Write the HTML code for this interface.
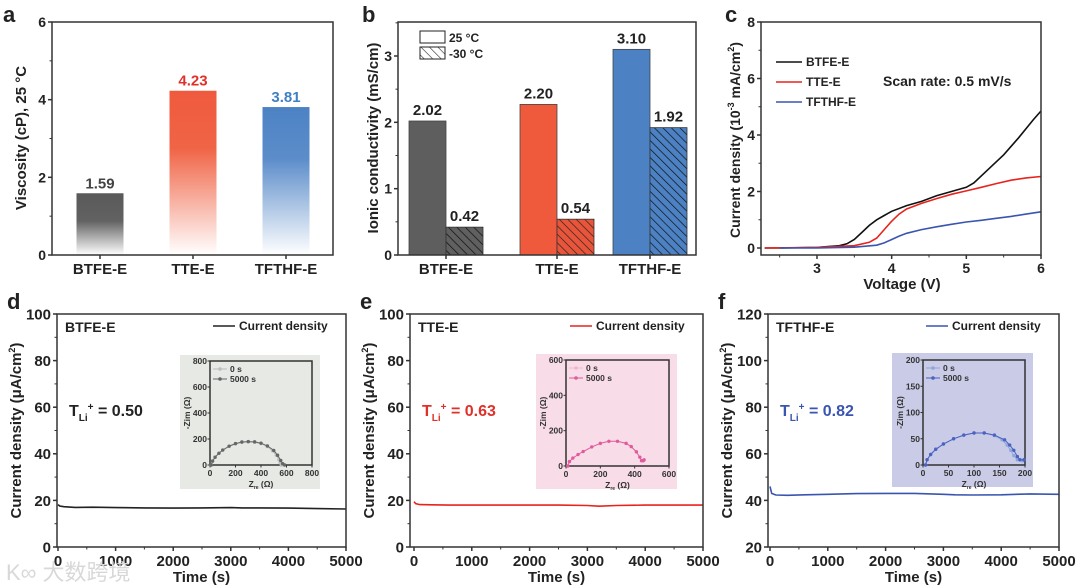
<!DOCTYPE html>
<html><head><meta charset="utf-8"><style>
html,body{margin:0;padding:0;background:#fff;}
svg{display:block;font-family:"Liberation Sans","Noto Sans CJK SC",sans-serif;font-weight:bold;}
</style></head><body>
<svg id="fig" width="1080" height="588" viewBox="0 0 1080 588" xmlns="http://www.w3.org/2000/svg">
<defs>
<linearGradient id="gGray" x1="0" y1="0" x2="0" y2="1"><stop offset="0" stop-color="#595959"/><stop offset="0.45" stop-color="#626262"/><stop offset="1" stop-color="#ffffff"/></linearGradient>
<linearGradient id="gRed" x1="0" y1="0" x2="0" y2="1"><stop offset="0" stop-color="#ef5a3d"/><stop offset="0.35" stop-color="#f06446"/><stop offset="1" stop-color="#ffffff"/></linearGradient>
<linearGradient id="gBlue" x1="0" y1="0" x2="0" y2="1"><stop offset="0" stop-color="#4c82c4"/><stop offset="0.35" stop-color="#5c8dca"/><stop offset="1" stop-color="#ffffff"/></linearGradient>
<pattern id="hGray" width="6" height="6" patternUnits="userSpaceOnUse" patternTransform="rotate(-45)"><rect width="6" height="6" fill="#606060"/><line x1="0" y1="0" x2="0" y2="6" stroke="#111" stroke-width="1.4"/></pattern>
<pattern id="hRed" width="6" height="6" patternUnits="userSpaceOnUse" patternTransform="rotate(-45)"><rect width="6" height="6" fill="#e8553a"/><line x1="0" y1="0" x2="0" y2="6" stroke="#222" stroke-width="1.4"/></pattern>
<pattern id="hBlue" width="6" height="6" patternUnits="userSpaceOnUse" patternTransform="rotate(-45)"><rect width="6" height="6" fill="#4c82c4"/><line x1="0" y1="0" x2="0" y2="6" stroke="#111" stroke-width="1.4"/></pattern>
<pattern id="hWhite" width="6" height="6" patternUnits="userSpaceOnUse" patternTransform="rotate(-45)"><rect width="6" height="6" fill="#fff"/><line x1="0" y1="0" x2="0" y2="6" stroke="#222" stroke-width="1.2"/></pattern>
</defs>
</svg>
<script>
// ---- panel a data ----
const aCategories = ["BTFE-E","TTE-E","TFTHF-E"];
const aViscosity = [1.59, 4.23, 3.81];
const aLabels = ["1.59","4.23","3.81"];
const aYTicks = [0,2,4,6];
// ---- panel b data ----
const bCategories = ["BTFE-E","TTE-E","TFTHF-E"];
const bCond25 = [2.02, 2.27, 3.10];
const bCondM30 = [0.42, 0.54, 1.92];
const bLabels25 = ["2.02","2.20","3.10"];
const bLabelsM30 = ["0.42","0.54","1.92"];
const bYTicks = [0,1,2,3];
// ---- panel c data ----
const cXTicks = [3,4,5,6];
const cYTicks = [0,2,4,6,8];
const cBtfeV = [2.3,2.5,3,3.3,3.4,3.5,3.6,3.7,3.8,3.9,4.0,4.2,4.4,4.6,4.8,5.0,5.1,5.3,5.5,5.7,5.9,6.0];
const cBtfeI = [0,0,0.02,0.08,0.15,0.3,0.55,0.8,1.0,1.15,1.3,1.5,1.65,1.85,2.0,2.15,2.3,2.8,3.3,3.9,4.55,4.85];
const cTteV = [2.3,3,3.5,3.7,3.8,3.9,4.0,4.1,4.2,4.4,4.6,4.8,5.0,5.2,5.4,5.6,5.8,6.0];
const cTteI = [0,0.02,0.08,0.2,0.35,0.65,0.95,1.2,1.38,1.58,1.75,1.9,2.02,2.15,2.28,2.4,2.48,2.53];
const cTfthfV = [2.5,3,3.5,3.8,3.9,4.0,4.1,4.2,4.4,4.6,4.8,5.0,5.2,5.4,5.6,5.8,6.0];
const cTfthfI = [0,0,0.03,0.1,0.18,0.3,0.42,0.52,0.65,0.75,0.84,0.92,0.98,1.05,1.12,1.2,1.28];
// ---- panels d,e,f data ----
const tTimes = [0,30,100,300,600,1000,1500,2000,2500,3000,3200,3500,4000,4500,5000];
const dCurrent = [18.2,17.6,17.3,17.0,17.1,16.9,16.8,16.7,16.8,16.9,16.8,16.8,16.7,16.5,16.3];
const eCurrent = [19.5,18.6,18.2,18.1,18.0,18.0,18.0,18.0,18.0,17.8,17.5,17.8,18.0,18.0,18.0];
const fCurrent = [46,43,42.3,42.2,42.4,42.6,42.9,43.0,43.0,42.6,42.4,42.3,42.4,42.8,42.6];
const tXTicks = [0,1000,2000,3000,4000,5000];
const dYTicks = [0,20,40,60,80,100];
const fYTicks = [20,40,60,80,100,120];
// Nyquist insets
const dNyqRe0 = [10,20,40,70,100,150,200,250,300,350,400,450,490,520,540,550,560];
const dNyqIm0 = [0,30,60,90,115,143,162,174,178,175,165,142,110,75,40,15,0];
const dNyqRe1 = [10,20,40,70,100,150,200,250,300,350,400,450,500,530,555,570,585];
const dNyqIm1 = [0,30,60,90,115,145,165,177,180,178,168,147,112,75,35,10,0];
const eNyqRe = [10,20,40,70,100,150,200,250,300,350,380,410,430,440,450,455];
const eNyqIm = [0,25,45,65,82,108,128,140,140,128,110,80,50,30,30,35];
const fNyqRe0 = [5,8,15,25,40,60,80,100,120,140,155,165,172,178,185,195];
const fNyqIm0 = [0,10,20,30,40,50,57,61,61,56,48,38,28,18,10,8];
const fNyqRe1 = [5,8,15,25,40,60,80,100,120,140,160,170,178,185,190,198];
const fNyqIm1 = [0,10,20,30,40,50,57,61,61,57,48,38,28,16,10,10];

const NS="http://www.w3.org/2000/svg";
const svg=document.getElementById('fig');
function el(tag,attrs,parent,text){const e=document.createElementNS(NS,tag);for(const k in attrs)e.setAttribute(k,attrs[k]);if(text!==undefined)e.textContent=text;(parent||svg).appendChild(e);return e;}
function lin(d0,d1,r0,r1){return v=>r0+(v-d0)*(r1-r0)/(d1-d0);}
function pathD(xs,ys,fx,fy){return xs.map((x,i)=>(i?'L':'M')+fx(x).toFixed(1)+','+fy(ys[i]).toFixed(1)).join('');}

function frame(x0,y0,x1,y1,name,fill){
  const r=el('rect',{x:x0,y:y0,width:x1-x0,height:y1-y0,fill:fill||'none',stroke:'#333','stroke-width':1.5});
  
  
}
function yTicks(ticks,fy,x0,size,minorStep,yMin,yMax,name,lab){
  const g=el('g',{});
  
  
  ticks.forEach(t=>{el('line',{x1:x0-4,x2:x0,y1:fy(t),y2:fy(t),stroke:'#333','stroke-width':1.5},g);
    if(lab!==false){el('text',{x:x0-6,y:fy(t)+size*0.36,'font-size':size,'text-anchor':'end',fill:'#222'},g,String(t));}});
  if(minorStep){for(let v=yMin;v<=yMax+1e-9;v+=minorStep){el('line',{x1:x0-2.5,x2:x0,y1:fy(v),y2:fy(v),stroke:'#333','stroke-width':1},g);}}
}
function xTicks(ticks,fx,y0,size,minorStep,xMin,xMax,name,labels){
  const g=el('g',{});
  
  
  ticks.forEach((t,i)=>{el('line',{x1:fx(t),x2:fx(t),y1:y0,y2:y0+4,stroke:'#333','stroke-width':1.5},g);
    el('text',{x:fx(t),y:y0+4+size,'font-size':size,'text-anchor':'middle',fill:'#222'},g,labels?labels[i]:String(t));});
  if(minorStep){for(let v=xMin;v<=xMax+1e-9;v+=minorStep){el('line',{x1:fx(v),x2:fx(v),y1:y0,y2:y0+2.5,stroke:'#333','stroke-width':1},g);}}
}
function text(x,y,s,size,name,opts){
  const t=el('text',Object.assign({x:x,y:y,'font-size':size,fill:'#222'},opts||{}),svg,s);
  
  
  return t;
}
function vtext(cx,cy,s,size,name){
  const t=el('text',{x:0,y:0,'font-size':size,fill:'#222','text-anchor':'middle',transform:`translate(${cx},${cy}) rotate(-90)`},svg);
  t.innerHTML=s;
  
  
}

// ===== Panel a =====
{
  const fy=lin(0,6,255,22);
  const cx=[100,193,286], w=47, fills=['url(#gGray)','url(#gRed)','url(#gBlue)'], lc=['#444','#e0302a','#3f7fc4'];
  aViscosity.forEach((v,i)=>{
    const r=el('rect',{x:cx[i]-w/2,y:fy(v),width:w,height:fy(0)-fy(v),fill:fills[i]});
    
    
    text(cx[i],fy(v)-5,aLabels[i],15,'bar-label-a-'+i,{'text-anchor':'middle',fill:lc[i]});
  });
  frame(52,22,333,255,'panel-a-plot');
  yTicks(aYTicks,fy,52,14,1,0,6,'panel-a-y-ticks');
  xTicks([0,1,2],i=>cx[i],255,15,null,0,0,'panel-a-x-ticks',aCategories);
  vtext(26,138,'Viscosity (cP), 25 °C',15,'panel-a-y-title');
  text(3,22,'a',22,'panel-a-letter');
}
// ===== Panel b =====
{
  const fy=lin(0,3,255,56);
  const ticks=[446,557,650], w=37;
  const f25=['#5e5e5e','#ef5a3d','#4c82c4'], fm=['url(#hGray)','url(#hRed)','url(#hBlue)'];
  bCond25.forEach((v,i)=>{
    const r=el('rect',{x:ticks[i]-w,y:fy(v),width:w,height:fy(0)-fy(v),fill:f25[i],stroke:'#444','stroke-width':0.8});
    
    
    text(ticks[i]-w/2,fy(v)-6,bLabels25[i],15,'bar-label-25c-'+i,{'text-anchor':'middle'});
    const r2=el('rect',{x:ticks[i],y:fy(bCondM30[i]),width:w,height:fy(0)-fy(bCondM30[i]),fill:fm[i],stroke:'#333','stroke-width':0.8});
    
    
    text(ticks[i]+w/2,fy(bCondM30[i])-6,bLabelsM30[i],15,'bar-label-m30c-'+i,{'text-anchor':'middle'});
  });
  frame(398,22,696,255,'panel-b-plot');
  yTicks(bYTicks,fy,398,14,0.5,0,3.5,'panel-b-y-ticks');
  xTicks([0,1,2],i=>ticks[i],255,15,null,0,0,'panel-b-x-ticks',bCategories);
  vtext(378,138,'Ionic conductivity (mS/cm)',15,'panel-b-y-title');
  text(362,22,'b',22,'panel-b-letter');
  const lg=el('g',{});
  el('rect',{x:420,y:31,width:25,height:12,fill:'#fff',stroke:'#222','stroke-width':1},lg);
  el('text',{x:449,y:42,'font-size':12,fill:'#222'},lg,'25 °C');
  el('rect',{x:420,y:47,width:25,height:12,fill:'url(#hWhite)',stroke:'#222','stroke-width':1},lg);
  el('text',{x:449,y:58,'font-size':12,fill:'#222'},lg,'-30 °C');
}
// ===== Panel c =====
{
  const fx=lin(3,6,817,1041), fy=lin(0,8,248,22);
  const series=[[cBtfeV,cBtfeI,'#111','btfe'],[cTteV,cTteI,'#e8231e','tte'],[cTfthfV,cTfthfI,'#3a55b0','tfthf']];
  series.forEach(s=>{const p=el('path',{d:pathD(s[0],s[1],fx,fy),fill:'none',stroke:s[2],'stroke-width':1.6});
    });
  frame(761,22,1041,255,'panel-c-plot');
  yTicks(cYTicks,fy,761,14,1,0,8,'panel-c-y-ticks');
  xTicks(cXTicks,fx,255,14,0.5,2.5,6,'panel-c-x-ticks');
  vtext(740,140,'Current density (10<tspan font-size="9" dy="-6">-3</tspan><tspan dy="6"> mA/cm</tspan><tspan font-size="9" dy="-6">2</tspan><tspan dy="6">)</tspan>',14,'panel-c-y-title');
  text(902,289,'Voltage (V)',15,'panel-c-x-title',{'text-anchor':'middle'});
  text(725,22,'c',22,'panel-c-letter');
  const names=['BTFE-E','TTE-E','TFTHF-E'], cols=['#111','#e8231e','#3a55b0'];
  const lg=el('g',{});
  names.forEach((n,i)=>{el('line',{x1:776,x2:802,y1:62+i*20,y2:62+i*20,stroke:cols[i],'stroke-width':1.6},lg);
    el('text',{x:806,y:66+i*20,'font-size':12,fill:'#222'},lg,n);});
  text(883,86,'Scan rate: 0.5 mV/s',14,'scan-rate-note');
}
// ===== Panels d, e, f =====
function timePanel(o){
  const fx=lin(0,5000,o.x0t,o.x1),fy=lin(o.yMin,o.yMax,o.yb,o.yt);
  const bg=el('rect',{x:o.ib[0],y:o.ib[1],width:o.ib[2]-o.ib[0],height:o.ib[3]-o.ib[1],fill:o.ibg});
  
  const ix=lin(0,o.nMax,o.ip[0],o.ip[2]), iy=lin(0,o.nMax,o.ip[3],o.ip[1]);
  frame(o.ip[0],o.ip[1],o.ip[2],o.ip[3],o.id+'-inset-plot');
  const ig=el('g',{});
  o.nTicks.forEach(t=>{
    el('line',{x1:ix(t),x2:ix(t),y1:o.ip[3],y2:o.ip[3]+2.5,stroke:'#333'},ig);
    el('text',{x:ix(t),y:o.ip[3]+11,'font-size':8.5,'text-anchor':'middle',fill:'#333'},ig,String(t));
    el('line',{x1:o.ip[0]-2.5,x2:o.ip[0],y1:iy(t),y2:iy(t),stroke:'#333'},ig);
    el('text',{x:o.ip[0]-3,y:iy(t)+3,'font-size':8.5,'text-anchor':'end',fill:'#333'},ig,String(t));
  });
  const xt=el('text',{x:(o.ip[0]+o.ip[2])/2,y:o.ip[3]+22,'font-size':8.5,'text-anchor':'middle',fill:'#333'},svg);
  xt.innerHTML='Z<tspan font-size="5" dy="2">re</tspan><tspan dy="-2"> (Ω)</tspan>';
  
  const yt=el('text',{x:0,y:0,'font-size':8.5,'text-anchor':'middle',fill:'#333',transform:`translate(${o.ip[0]-20},${(o.ip[1]+o.ip[3])/2}) rotate(-90)`},svg,'-Zim (Ω)');
  
  o.nyq.forEach((s,k)=>{
    const g=el('g',{});
    el('path',{d:pathD(s[0],s[1],ix,iy),fill:'none',stroke:s[2],'stroke-width':1},g);
    s[0].forEach((v,i)=>el('circle',{cx:ix(v),cy:iy(s[1][i]),r:1.7,fill:s[2]},g));
  });
  const nl=el('g',{});
  el('line',{x1:o.ip[0]+3,x2:o.ip[0]+17,y1:o.ip[1]+8,y2:o.ip[1]+8,stroke:o.c0},nl);
  el('circle',{cx:o.ip[0]+10,cy:o.ip[1]+8,r:1.8,fill:o.c0},nl);
  el('text',{x:o.ip[0]+20,y:o.ip[1]+11,'font-size':8.5,fill:'#333'},nl,'0 s');
  el('line',{x1:o.ip[0]+3,x2:o.ip[0]+17,y1:o.ip[1]+18,y2:o.ip[1]+18,stroke:o.c1},nl);
  el('circle',{cx:o.ip[0]+10,cy:o.ip[1]+18,r:1.8,fill:o.c1},nl);
  el('text',{x:o.ip[0]+20,y:o.ip[1]+21,'font-size':8.5,fill:'#333'},nl,'5000 s');
  const p=el('path',{d:pathD(tTimes,o.vals,fx,fy),fill:'none',stroke:o.col,'stroke-width':1.6});
  
  frame(o.x0,o.yt,o.x1,o.yb,o.id+'-plot');
  yTicks(o.yTicks,fy,o.x0,15,10,o.yMin,o.yMax,o.id+'-y-ticks');
  xTicks(tXTicks,fx,o.yb,15,500,0,5000,o.id+'-x-ticks');
  vtext(o.x0-36,(o.yt+o.yb)/2,'Current density (μA/cm<tspan font-size="9" dy="-6">2</tspan><tspan dy="6">)</tspan>',15,o.id+'-y-title');
  text((o.x0+o.x1)/2,582,'Time (s)',15,o.id+'-x-title',{'text-anchor':'middle'});
  text(o.x0-50,309,o.letter,22,o.id+'-letter');
  text(o.x0+8,332,o.name,14,o.id+'-sample-name');
  const lg=el('g',{});
  el('line',{x1:o.x1-133,x2:o.x1-111,y1:326,y2:326,stroke:o.col,'stroke-width':1.6},lg);
  el('text',{x:o.x1-107,y:330,'font-size':12,fill:'#222'},lg,'Current density');
  const tl=el('text',{x:o.x0+12,y:416,'font-size':16,fill:o.tcol},svg);
  tl.innerHTML='T<tspan font-size="10" dy="5">Li</tspan><tspan font-size="10" dy="-11">+</tspan><tspan dy="6"> = '+o.tval+'</tspan>';
  
}
timePanel({id:'panel-d',letter:'d',name:'BTFE-E',x0:57,x0t:58,x1:346,yt:314,yb:547,yMin:0,yMax:100,yTicks:dYTicks,vals:dCurrent,col:'#222',tcol:'#222',tval:'0.50',
  ib:[180,355,320,489],ibg:'#e6e9e4',ip:[210,361,312,465],nMax:800,nTicks:[0,200,400,600,800],c0:'#bdbdbd',c1:'#666',
  nyq:[[dNyqRe0,dNyqIm0,'#bdbdbd'],[dNyqRe1,dNyqIm1,'#666']]});
timePanel({id:'panel-e',letter:'e',name:'TTE-E',x0:410,x0t:414,x1:703,yt:314,yb:547,yMin:0,yMax:100,yTicks:dYTicks,vals:eCurrent,col:'#e8231e',tcol:'#e0302a',tval:'0.63',
  ib:[536,354,677,489],ibg:'#f8dde9',ip:[566,360,669,466],nMax:600,nTicks:[0,200,400,600],c0:'#f4b5d0',c1:'#e05a9c',
  nyq:[[eNyqRe,eNyqIm,'#e05a9c']]});
timePanel({id:'panel-f',letter:'f',name:'TFTHF-E',x0:768,x0t:770,x1:1059,yt:314,yb:547,yMin:20,yMax:120,yTicks:fYTicks,vals:fCurrent,col:'#3a55b0',tcol:'#3a55b0',tval:'0.82',
  ib:[892,353,1033,487],ibg:'#c9cbe7',ip:[923,360,1025,465],nMax:200,nTicks:[0,50,100,150,200],c0:'#8fa6dc',c1:'#4a62c0',
  nyq:[[fNyqRe0,fNyqIm0,'#8fa6dc'],[fNyqRe1,fNyqIm1,'#4a62c0']]});
const wm=el('text',{x:6,y:580,'font-size':22,fill:'#d8d8d8','font-weight':'normal'},svg,'K∞ 大数跨境');


</script>
</body></html>
